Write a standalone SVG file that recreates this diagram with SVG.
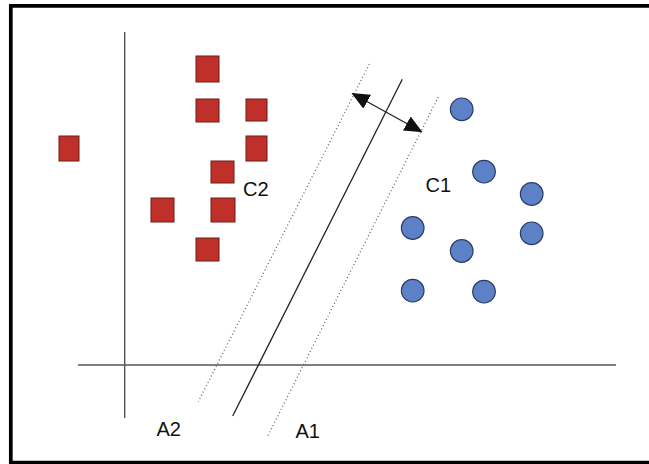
<svg xmlns="http://www.w3.org/2000/svg" width="649" height="464" viewBox="0 0 649 464">
<style>
.sq{fill:#c0302a;stroke:#6e1a16;stroke-width:1}
.ci{fill:#5d81c6;stroke:#283a63;stroke-width:1.2}
.ax{stroke:#555;stroke-width:1.4;fill:none}
.sol{stroke:#222;stroke-width:1.3;fill:none}
.dot{stroke:#666;stroke-width:1.3;fill:none;stroke-dasharray:1 2.6}
.lbl{font-family:"Liberation Sans",Arial,sans-serif;font-size:20px;fill:#111}
</style>
<defs>
<marker id="ah" viewBox="0 0 18 16" refX="17" refY="8" markerWidth="18" markerHeight="16" markerUnits="userSpaceOnUse" orient="auto-start-reverse">
<path d="M0,0 L18,8 L0,16 z" fill="#111"/>
</marker>
</defs>
<rect width="649" height="464" fill="#fff"/>
<path d="M649 5.8 H10.8 V462.7 H649" fill="none" stroke="#000" stroke-width="3.7"/>
<g id="connectors">
<line class="ax" x1="124.7" y1="32" x2="124.7" y2="418"/>
<line class="ax" x1="78" y1="365" x2="616" y2="365"/>
<line class="sol" x1="402.3" y1="79.3" x2="232.7" y2="416"/>
<line class="dot" x1="369.3" y1="64" x2="198.3" y2="401.7"/>
<line class="dot" x1="438.3" y1="97" x2="267.7" y2="436"/>
<line class="sol" x1="352.3" y1="93.5" x2="421.7" y2="131.7" marker-start="url(#ah)" marker-end="url(#ah)"/>
</g>
<g id="class2">
<rect class="sq" x="196" y="56" width="23" height="26"/>
<rect class="sq" x="196" y="99" width="23" height="23"/>
<rect class="sq" x="246" y="99" width="21" height="22"/>
<rect class="sq" x="246" y="136" width="21" height="25"/>
<rect class="sq" x="59" y="136" width="20" height="25"/>
<rect class="sq" x="211" y="161" width="23" height="22"/>
<rect class="sq" x="151" y="198" width="23" height="24"/>
<rect class="sq" x="211" y="198" width="24" height="24"/>
<rect class="sq" x="196" y="238" width="23" height="23"/>
</g>
<g id="class1">
<circle class="ci" cx="461.7" cy="109.3" r="11.3"/>
<circle class="ci" cx="484" cy="171.7" r="11.3"/>
<circle class="ci" cx="531.7" cy="194" r="11.3"/>
<circle class="ci" cx="412.7" cy="228" r="11.3"/>
<circle class="ci" cx="531.7" cy="233.3" r="11.3"/>
<circle class="ci" cx="461.7" cy="251" r="11.3"/>
<circle class="ci" cx="412.7" cy="290.7" r="11.3"/>
<circle class="ci" cx="484" cy="291.7" r="11.3"/>
</g>
<g id="labels">
<text class="lbl" x="243" y="196">C2</text>
<text class="lbl" x="425.5" y="192">C1</text>
<text class="lbl" x="156.5" y="435.5">A2</text>
<text class="lbl" x="295.5" y="437.5">A1</text>
</g>
</svg>
